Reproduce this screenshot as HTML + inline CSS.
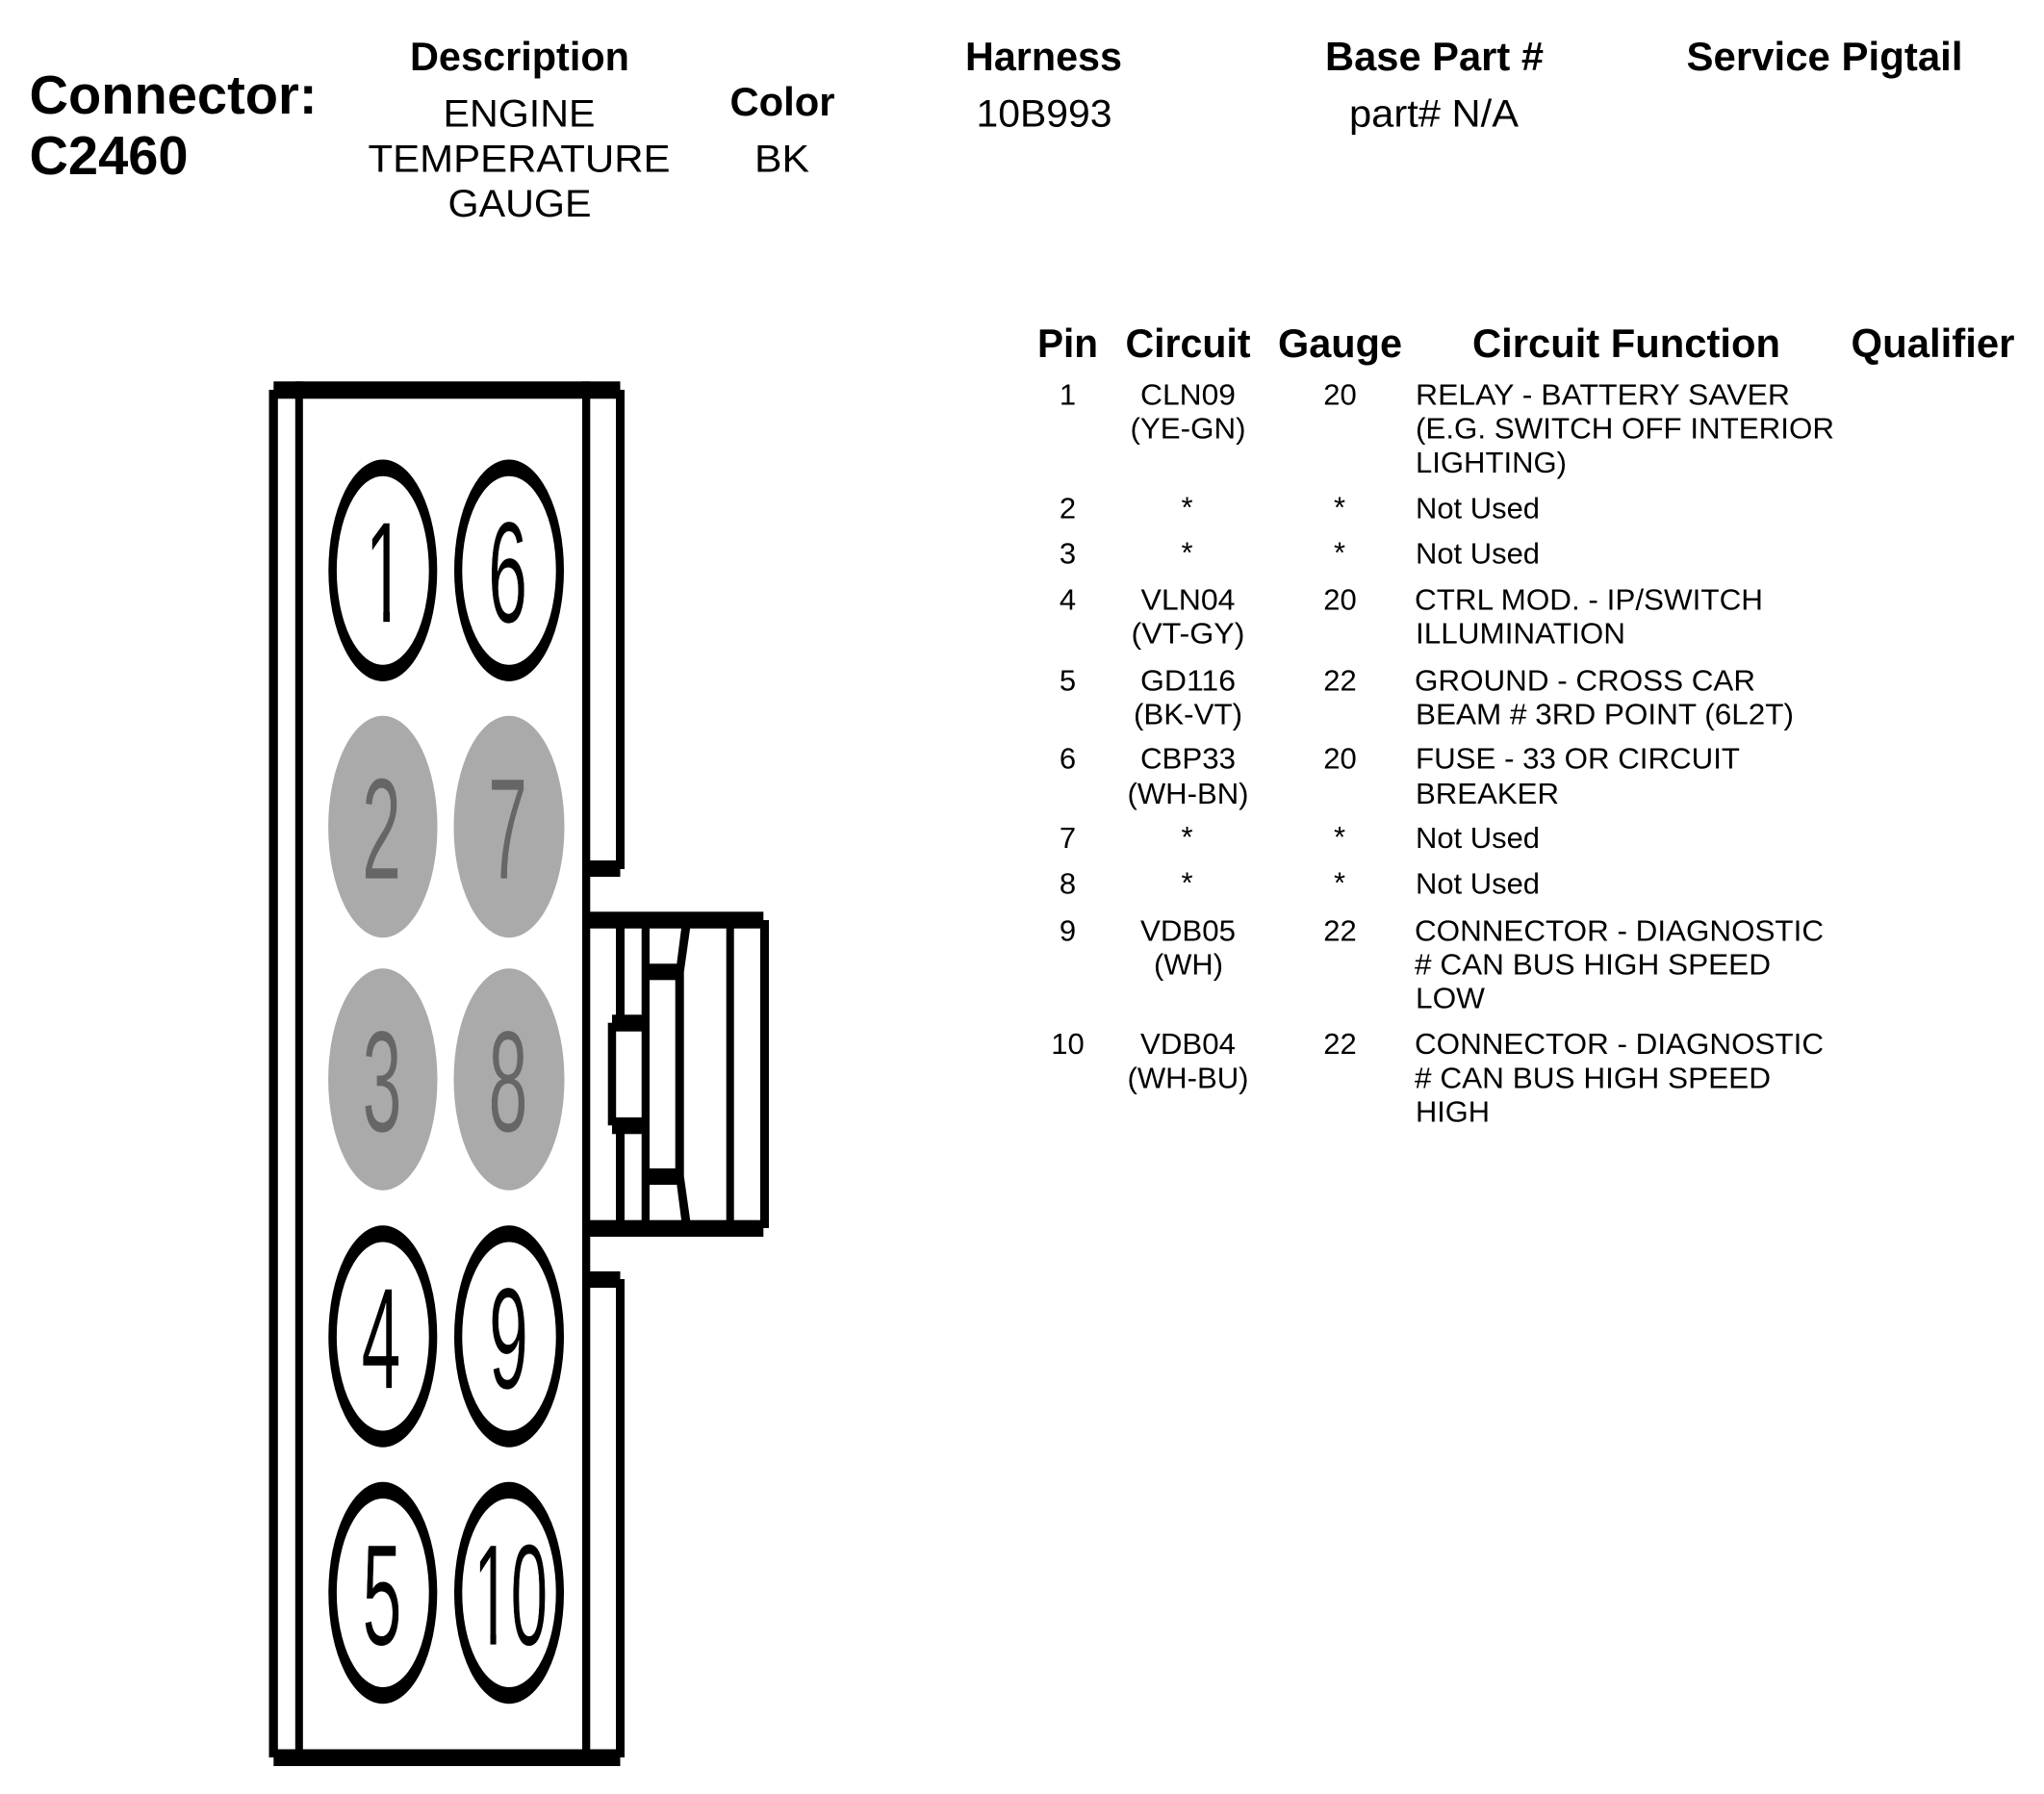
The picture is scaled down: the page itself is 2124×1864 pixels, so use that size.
<!DOCTYPE html>
<html><head><meta charset="utf-8"><title>Connector C2460</title>
<style>
html,body{margin:0;padding:0;background:#fff}
svg{display:block}
text{font-family:"Liberation Sans",Arial,sans-serif;fill:#000}
.b{font-weight:bold;font-size:42px}
.n{font-size:40px}
.t{font-size:31px}
.m{text-anchor:middle}
.d{font-size:150px;text-anchor:middle;stroke:#fff;stroke-width:.8px}
.g{fill:#666;stroke:#aaa}
</style></head><body>
<svg width="2124" height="1864" viewBox="0 0 2124 1864" xmlns="http://www.w3.org/2000/svg">
<rect width="2124" height="1864" fill="#fff"/>
<!-- header -->
<text class="b" x="30.5" y="118" style="font-size:57px" textLength="299" lengthAdjust="spacingAndGlyphs">Connector:</text>
<text class="b" x="30.5" y="181" style="font-size:57px" textLength="165" lengthAdjust="spacingAndGlyphs">C2460</text>
<text class="b m" x="540" y="73" textLength="228" lengthAdjust="spacingAndGlyphs">Description</text>
<text class="b m" x="1084.5" y="73" textLength="163" lengthAdjust="spacingAndGlyphs">Harness</text>
<text class="b m" x="1490.5" y="73" textLength="227" lengthAdjust="spacingAndGlyphs">Base Part #</text>
<text class="b m" x="1896" y="73" textLength="287" lengthAdjust="spacingAndGlyphs">Service Pigtail</text>
<text class="b m" x="813" y="120" textLength="109" lengthAdjust="spacingAndGlyphs">Color</text>
<text class="n m" x="539.5" y="131.5" textLength="158" lengthAdjust="spacingAndGlyphs">ENGINE</text>
<text class="n m" x="539.5" y="178.5" textLength="314" lengthAdjust="spacingAndGlyphs">TEMPERATURE</text>
<text class="n m" x="540" y="225" textLength="149" lengthAdjust="spacingAndGlyphs">GAUGE</text>
<text class="n m" x="812.5" y="178.5" textLength="57" lengthAdjust="spacingAndGlyphs">BK</text>
<text class="n m" x="1085" y="131.5" textLength="141" lengthAdjust="spacingAndGlyphs">10B993</text>
<text class="n m" x="1490" y="131.5" textLength="176" lengthAdjust="spacingAndGlyphs">part# N/A</text>
<!-- table header -->
<text class="b m" x="1109.5" y="371" textLength="63" lengthAdjust="spacingAndGlyphs">Pin</text>
<text class="b m" x="1234.5" y="371" textLength="130" lengthAdjust="spacingAndGlyphs">Circuit</text>
<text class="b m" x="1392.5" y="371" textLength="129" lengthAdjust="spacingAndGlyphs">Gauge</text>
<text class="b m" x="1690" y="371" textLength="320" lengthAdjust="spacingAndGlyphs">Circuit Function</text>
<text class="b m" x="2008.5" y="371" textLength="170" lengthAdjust="spacingAndGlyphs">Qualifier</text>
<!-- pins -->
<text class="t m" x="1109.5" y="420.7">1</text>
<text class="t m" x="1109.5" y="538.7">2</text>
<text class="t m" x="1109.5" y="585.7">3</text>
<text class="t m" x="1109.5" y="633.7">4</text>
<text class="t m" x="1109.5" y="717.7">5</text>
<text class="t m" x="1109.5" y="798.7">6</text>
<text class="t m" x="1109.5" y="881.2">7</text>
<text class="t m" x="1109.5" y="928.7">8</text>
<text class="t m" x="1109.5" y="977.7">9</text>
<text class="t m" x="1109.5" y="1095.2">10</text>
<!-- circuit -->
<text class="t m" x="1234.5" y="420.7" textLength="99" lengthAdjust="spacingAndGlyphs">CLN09</text>
<text class="t m" x="1234.5" y="455.7" textLength="120" lengthAdjust="spacingAndGlyphs">(YE-GN)</text>
<text class="t m" x="1233.5" y="537.7">*</text>
<text class="t m" x="1233.5" y="584.7">*</text>
<text class="t m" x="1234.5" y="633.7" textLength="98" lengthAdjust="spacingAndGlyphs">VLN04</text>
<text class="t m" x="1234.5" y="668.7" textLength="118" lengthAdjust="spacingAndGlyphs">(VT-GY)</text>
<text class="t m" x="1234.5" y="717.7" textLength="99" lengthAdjust="spacingAndGlyphs">GD116</text>
<text class="t m" x="1234.5" y="752.7" textLength="113" lengthAdjust="spacingAndGlyphs">(BK-VT)</text>
<text class="t m" x="1234.5" y="798.7" textLength="99" lengthAdjust="spacingAndGlyphs">CBP33</text>
<text class="t m" x="1234.5" y="835.2" textLength="126" lengthAdjust="spacingAndGlyphs">(WH-BN)</text>
<text class="t m" x="1233.5" y="880.2">*</text>
<text class="t m" x="1233.5" y="927.7">*</text>
<text class="t m" x="1234.5" y="977.7" textLength="99" lengthAdjust="spacingAndGlyphs">VDB05</text>
<text class="t m" x="1235" y="1012.7" textLength="72" lengthAdjust="spacingAndGlyphs">(WH)</text>
<text class="t m" x="1234.5" y="1095.2" textLength="99" lengthAdjust="spacingAndGlyphs">VDB04</text>
<text class="t m" x="1234.5" y="1130.7" textLength="126" lengthAdjust="spacingAndGlyphs">(WH-BU)</text>
<!-- gauge -->
<text class="t m" x="1392.5" y="420.7">20</text>
<text class="t m" x="1392" y="537.7">*</text>
<text class="t m" x="1392" y="584.7">*</text>
<text class="t m" x="1392.5" y="633.7">20</text>
<text class="t m" x="1392.5" y="717.7">22</text>
<text class="t m" x="1392.5" y="798.7">20</text>
<text class="t m" x="1392" y="880.2">*</text>
<text class="t m" x="1392" y="927.7">*</text>
<text class="t m" x="1392.5" y="977.7">22</text>
<text class="t m" x="1392.5" y="1095.2">22</text>
<!-- function -->
<text class="t" x="1471" y="420.7" textLength="389" lengthAdjust="spacingAndGlyphs">RELAY - BATTERY SAVER</text>
<text class="t" x="1471" y="455.7" textLength="435" lengthAdjust="spacingAndGlyphs">(E.G. SWITCH OFF INTERIOR</text>
<text class="t" x="1471" y="491" textLength="157" lengthAdjust="spacingAndGlyphs">LIGHTING)</text>
<text class="t" x="1471" y="538.7" textLength="129" lengthAdjust="spacingAndGlyphs">Not Used</text>
<text class="t" x="1471" y="585.7" textLength="129" lengthAdjust="spacingAndGlyphs">Not Used</text>
<text class="t" x="1470" y="633.7" textLength="362" lengthAdjust="spacingAndGlyphs">CTRL MOD. - IP/SWITCH</text>
<text class="t" x="1471" y="668.7" textLength="218" lengthAdjust="spacingAndGlyphs">ILLUMINATION</text>
<text class="t" x="1470" y="717.7" textLength="354" lengthAdjust="spacingAndGlyphs">GROUND - CROSS CAR</text>
<text class="t" x="1471" y="752.7" textLength="393" lengthAdjust="spacingAndGlyphs">BEAM # 3RD POINT (6L2T)</text>
<text class="t" x="1471" y="798.7" textLength="337" lengthAdjust="spacingAndGlyphs">FUSE - 33 OR CIRCUIT</text>
<text class="t" x="1471" y="835.2" textLength="149" lengthAdjust="spacingAndGlyphs">BREAKER</text>
<text class="t" x="1471" y="881.2" textLength="129" lengthAdjust="spacingAndGlyphs">Not Used</text>
<text class="t" x="1471" y="928.7" textLength="129" lengthAdjust="spacingAndGlyphs">Not Used</text>
<text class="t" x="1470" y="977.7" textLength="425" lengthAdjust="spacingAndGlyphs">CONNECTOR - DIAGNOSTIC</text>
<text class="t" x="1470" y="1012.7" textLength="370" lengthAdjust="spacingAndGlyphs"># CAN BUS HIGH SPEED</text>
<text class="t" x="1471" y="1047.7" textLength="72" lengthAdjust="spacingAndGlyphs">LOW</text>
<text class="t" x="1470" y="1095.2" textLength="425" lengthAdjust="spacingAndGlyphs">CONNECTOR - DIAGNOSTIC</text>
<text class="t" x="1470" y="1130.7" textLength="370" lengthAdjust="spacingAndGlyphs"># CAN BUS HIGH SPEED</text>
<text class="t" x="1471" y="1165.7" textLength="77" lengthAdjust="spacingAndGlyphs">HIGH</text>
<!-- connector body -->
<g fill="#000">
<rect x="284.3" y="396.3" width="360.2" height="18"/>
<rect x="284.3" y="1817.5" width="360.2" height="17.5"/>
<rect x="279.5" y="405" width="9.3" height="1421"/>
<rect x="306.8" y="396.3" width="8" height="1438.7"/>
<rect x="605" y="396.3" width="8.3" height="1438.7"/>
<rect x="640" y="405" width="9" height="498"/>
<rect x="605" y="894" width="39.5" height="17"/>
<rect x="640" y="1329" width="9" height="497"/>
<rect x="605" y="1321" width="39.5" height="17"/>
<!-- latch housing -->
<rect x="605" y="947.3" width="188.3" height="17.4"/>
<rect x="605" y="1267.7" width="188.3" height="17.3"/>
<rect x="790" y="956" width="9" height="320"/>
<rect x="754.7" y="950" width="8" height="330"/>
<rect x="640" y="950" width="9" height="112"/>
<rect x="640" y="1170" width="9" height="110"/>
<rect x="631.7" y="1062.7" width="8.5" height="106.6"/>
<rect x="636" y="1054.3" width="39" height="17.4"/>
<rect x="636" y="1161" width="39" height="17.3"/>
<rect x="666.7" y="950" width="8.3" height="330"/>
<rect x="670" y="1001.3" width="37" height="17"/>
<rect x="670" y="1214" width="37" height="17"/>
<polygon points="708.3,962 717.5,962 710.7,1010 710.7,1222 717.5,1270 708.3,1270 703.3,1231 701.7,1222 701.7,1010 703.3,1001"/>
</g>
<!-- cavities -->
<g>
<ellipse cx="397.8" cy="592.7" rx="56.5" ry="115.2"/>
<ellipse cx="397.8" cy="592.7" rx="47.9" ry="98" fill="#fff"/>
<ellipse cx="529" cy="592.7" rx="57" ry="115.2"/>
<ellipse cx="529" cy="592.7" rx="48.7" ry="98" fill="#fff"/>
<ellipse cx="397.8" cy="859" rx="56.7" ry="115.2" fill="#aaa"/>
<ellipse cx="529" cy="859" rx="57.5" ry="115.2" fill="#aaa"/>
<ellipse cx="397.8" cy="1121.5" rx="56.7" ry="115.2" fill="#aaa"/>
<ellipse cx="529" cy="1121.5" rx="57.5" ry="115.2" fill="#aaa"/>
<ellipse cx="397.8" cy="1388.5" rx="56.5" ry="115.2"/>
<ellipse cx="397.8" cy="1388.5" rx="47.9" ry="98" fill="#fff"/>
<ellipse cx="529" cy="1388.5" rx="57" ry="115.2"/>
<ellipse cx="529" cy="1388.5" rx="48.7" ry="98" fill="#fff"/>
<ellipse cx="397.8" cy="1655" rx="56.5" ry="115.2"/>
<ellipse cx="397.8" cy="1655" rx="47.9" ry="98" fill="#fff"/>
<ellipse cx="529" cy="1655" rx="57" ry="115.2"/>
<ellipse cx="529" cy="1655" rx="48.7" ry="98" fill="#fff"/>
</g>
<text class="d" x="400.3" y="646.5" textLength="42" lengthAdjust="spacingAndGlyphs">1</text>
<text class="d" x="527.6" y="646.5" textLength="41" lengthAdjust="spacingAndGlyphs">6</text>
<text class="d g" x="396.5" y="913" textLength="41" lengthAdjust="spacingAndGlyphs">2</text>
<text class="d g" x="527.6" y="913" textLength="41" lengthAdjust="spacingAndGlyphs">7</text>
<text class="d g" x="397" y="1175.5" textLength="41" lengthAdjust="spacingAndGlyphs">3</text>
<text class="d g" x="528" y="1175.5" textLength="41" lengthAdjust="spacingAndGlyphs">8</text>
<text class="d" x="396" y="1442.5" textLength="41" lengthAdjust="spacingAndGlyphs">4</text>
<text class="d" x="528.5" y="1442.5" textLength="41" lengthAdjust="spacingAndGlyphs">9</text>
<text class="d" x="397" y="1709" textLength="41" lengthAdjust="spacingAndGlyphs">5</text>
<text class="d" x="530.6" y="1709" textLength="77.3" lengthAdjust="spacingAndGlyphs">10</text>
<!-- trim the serif foot of the digit 1 to match the reference glyph -->
<g fill="#fff">
<rect x="383" y="635" width="15.3" height="13"/>
<rect x="405" y="635" width="16" height="13"/>
<rect x="495" y="1697.5" width="14.5" height="13"/>
<rect x="515.6" y="1697.5" width="14" height="13"/>
</g>
</svg>
</body></html>
